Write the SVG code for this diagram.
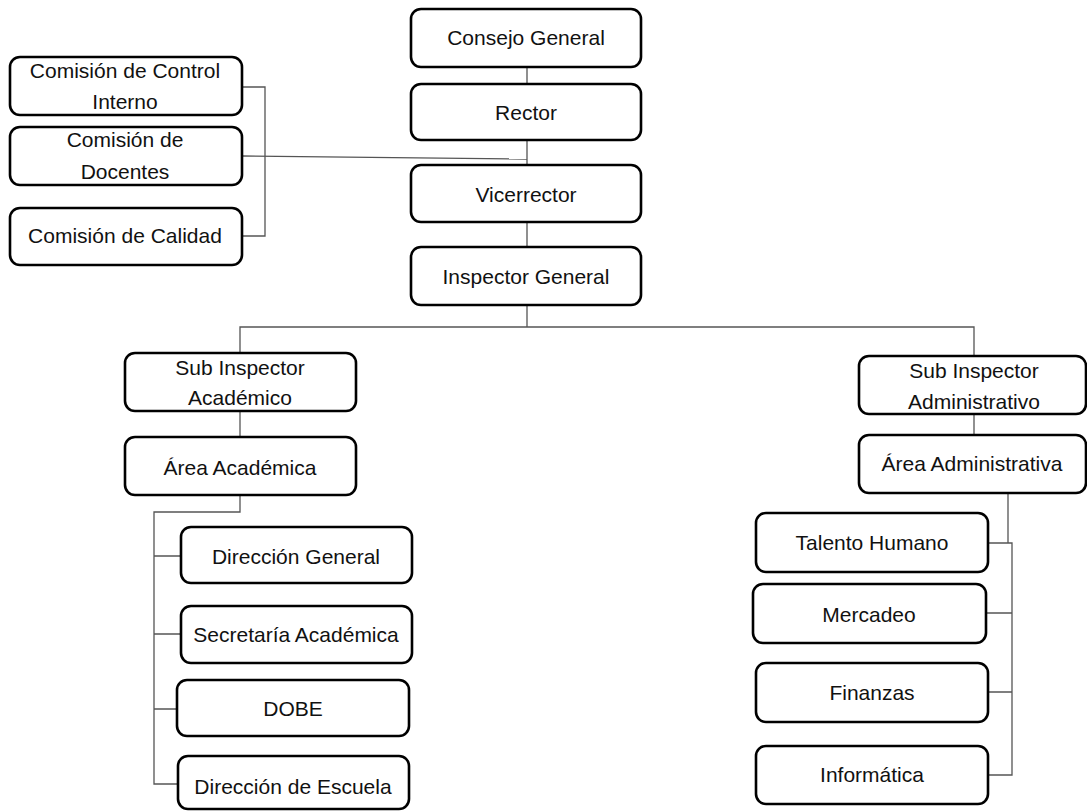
<svg xmlns="http://www.w3.org/2000/svg" width="1087" height="811" viewBox="0 0 1087 811">
<style>
.box{fill:#fff;stroke:#000;stroke-width:2.6}
.t{font-family:"Liberation Sans",Arial,sans-serif;font-size:21px;fill:#111;text-anchor:middle}
.c{fill:none;stroke:#555;stroke-width:1.3}
</style>
<rect width="1087" height="811" fill="#fff"/>
<g id="connectors">
<path class="c" d="M527 67V84M527 140V165M527 222V247M527 305V327"/>
<path class="c" d="M242 87H265V236H242"/>
<path class="c" d="M242 156L527 159"/>
<path class="c" d="M240 353V327H974V356"/>
<path class="c" d="M240 411V437"/>
<path class="c" d="M974 414V435"/>
<path class="c" d="M240 495V512H154V784H178M154 556H181M154 634H181M154 709H177"/>
<path class="c" d="M1008 493V543M988 543H1012V775H988M986 613H1012M988 692H1012"/>
</g>
<g id="consejo"><rect class="box" x="411" y="9" width="230" height="58" rx="10"/><text class="t" x="526" y="45">Consejo General</text></g>
<g id="rector"><rect class="box" x="411" y="84" width="230" height="56" rx="10"/><text class="t" x="526" y="120">Rector</text></g>
<g id="vicerrector"><rect class="box" x="411" y="165" width="230" height="57" rx="10"/><text class="t" x="526" y="202">Vicerrector</text></g>
<g id="inspector"><rect class="box" x="411" y="247" width="230" height="58" rx="10"/><text class="t" x="526" y="284">Inspector General</text></g>
<g id="com-control"><rect class="box" x="10" y="57" width="232" height="58" rx="10"/><text class="t" x="125" y="78">Comisión de Control</text><text class="t" x="125" y="109">Interno</text></g>
<g id="com-docentes"><rect class="box" x="10" y="127" width="232" height="58" rx="10"/><text class="t" x="125" y="147">Comisión de</text><text class="t" x="125" y="179">Docentes</text></g>
<g id="com-calidad"><rect class="box" x="10" y="208" width="232" height="57" rx="10"/><text class="t" x="125" y="243">Comisión de Calidad</text></g>
<g id="sub-academico"><rect class="box" x="125" y="353" width="231" height="58" rx="10"/><text class="t" x="240" y="375">Sub Inspector</text><text class="t" x="240" y="405">Académico</text></g>
<g id="area-academica"><rect class="box" x="125" y="437" width="231" height="58" rx="10"/><text class="t" x="240" y="475">Área Académica</text></g>
<g id="dir-general"><rect class="box" x="181" y="527" width="231" height="56" rx="10"/><text class="t" x="296" y="564">Dirección General</text></g>
<g id="secretaria"><rect class="box" x="181" y="606" width="231" height="57" rx="10"/><text class="t" x="296" y="642">Secretaría Académica</text></g>
<g id="dobe"><rect class="box" x="177" y="680" width="232" height="56" rx="10"/><text class="t" x="293" y="716">DOBE</text></g>
<g id="dir-escuela"><rect class="box" x="178" y="756" width="231" height="53" rx="10"/><text class="t" x="293" y="794">Dirección de Escuela</text></g>
<g id="sub-administrativo"><rect class="box" x="859" y="356" width="227" height="58" rx="10"/><text class="t" x="974" y="378">Sub Inspector</text><text class="t" x="974" y="409">Administrativo</text></g>
<g id="area-administrativa"><rect class="box" x="859" y="435" width="227" height="58" rx="10"/><text class="t" x="972" y="471">Área Administrativa</text></g>
<g id="talento"><rect class="box" x="756" y="513" width="232" height="59" rx="10"/><text class="t" x="872" y="550">Talento Humano</text></g>
<g id="mercadeo"><rect class="box" x="753" y="584" width="233" height="59" rx="10"/><text class="t" x="869" y="622">Mercadeo</text></g>
<g id="finanzas"><rect class="box" x="756" y="663" width="232" height="59" rx="10"/><text class="t" x="872" y="700">Finanzas</text></g>
<g id="informatica"><rect class="box" x="756" y="746" width="232" height="58" rx="10"/><text class="t" x="872" y="782">Informática</text></g>
</svg>
